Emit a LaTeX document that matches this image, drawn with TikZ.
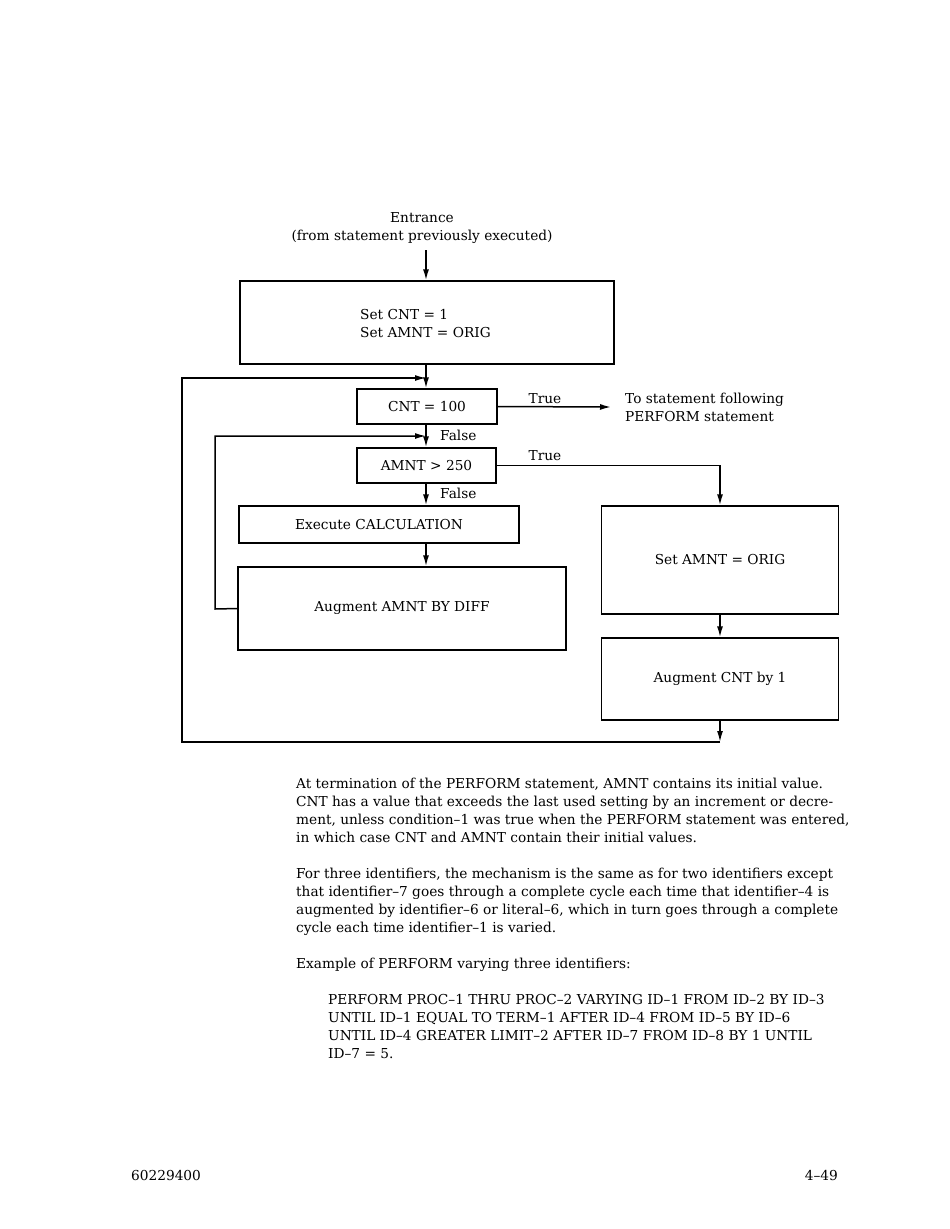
\documentclass[tikz,border=0pt]{standalone}
\usepackage{fontspec}
\setmainfont{DejaVu Serif}
\usetikzlibrary{arrows.meta}
\begin{document}
\begin{tikzpicture}[x=1pt,y=-1pt,
  every node/.style={font=\fontsize{13.7}{18}\selectfont},
  box/.style={draw,line width=1.4pt,inner sep=0pt,align=center},
  line/.style={line width=1.5pt},
  arr/.style={line width=1.5pt,-{Latex[length=11pt,width=6pt]}},
  lbl/.style={inner sep=0pt},
  para/.style={inner sep=0pt,align=left,anchor=north west}]
\useasboundingbox (0,0) rectangle (950,1229);
% titles
\node[lbl,align=center] (ent) at (422,228) {Entrance\\(from statement previously executed)};
\coordinate (entarr) at (426,250);
% boxes
\node[box,minimum width=374pt,minimum height=83pt] (b1) at (427,322.5) {};
\node[lbl,align=left,anchor=west] (b1t) at (360,324) {Set CNT = 1\\Set AMNT = ORIG};
\node[box,minimum width=140pt,minimum height=35pt] (cnt) at (427,406.5) {CNT = 100};
\node[box,minimum width=139pt,minimum height=35pt] (amnt) at (426.5,465.5) {AMNT > 250};
\node[box,minimum width=280pt,minimum height=37pt] (exec) at (379,524.5) {Execute CALCULATION};
\node[box,minimum width=328pt,minimum height=83pt] (augam) at (402,608.5) {Augment AMNT BY DIFF};
\node[box,minimum width=237pt,minimum height=108pt] (setam) at (720,560) {Set AMNT = ORIG};
\node[box,minimum width=237pt,minimum height=82pt] (augcnt) at (720,679) {Augment CNT by 1};
\node[lbl,align=left,anchor=west] (tostmt) at (625,407) {To statement following\\PERFORM statement};
% labels
\node[lbl] (t1) at (545,399) {True};
\node[lbl] (t2) at (545,456) {True};
\node[lbl,anchor=west] (f1) at (440,435) {False};
\node[lbl,anchor=west] (f2) at (440,493) {False};
% junctions
\coordinate (j1) at (426,378);
\coordinate (j2) at (426,436);
\coordinate (bot) at (720,742);
\coordinate (lc) at (182,742);
\coordinate (ic) at (215,609);
% connectors
\draw[arr] (entarr) -- (b1.north -| entarr);
\draw[line] (b1.south -| j1) -- (j1);
\draw[arr] (j1) -- (cnt.north -| j1);
\draw[arr] (cnt.east) -- ([xshift=-14pt]tostmt.west);
\draw[line] (cnt.south -| j2) -- (j2);
\draw[arr] (j2) -- (amnt.north -| j2);
\draw[arr] (amnt.east) -| (setam.north);
\draw[arr] (amnt.south -| j2) -- (exec.north -| j2);
\draw[arr] (exec.south -| j2) -- (augam.north -| j2);
\draw[arr] (augam.west) -- (ic) |- (j2);
\draw[arr] (setam.south) -- (augcnt.north);
\draw[arr] (augcnt.south) -- (bot);
\draw[arr] (bot) -- (lc) |- (j1);
% text
\node[para] (p1) at (296,778) {At termination of the PERFORM statement, AMNT contains its initial value.\\
CNT has a value that exceeds the last used setting by an increment or decre-\\
ment, unless condition–1 was true when the PERFORM statement was entered,\\
in which case CNT and AMNT contain their initial values.};
\node[para] (p2) at (296,868) {For three identifiers, the mechanism is the same as for two identifiers except\\
that identifier–7 goes through a complete cycle each time that identifier–4 is\\
augmented by identifier–6 or literal–6, which in turn goes through a complete\\
cycle each time identifier–1 is varied.};
\node[para] (p3) at (296,958) {Example of PERFORM varying three identifiers:};
\node[para] (p4) at (328,994) {PERFORM PROC–1 THRU PROC–2 VARYING ID–1 FROM ID–2 BY ID–3\\
UNTIL ID–1 EQUAL TO TERM–1 AFTER ID–4 FROM ID–5 BY ID–6\\
UNTIL ID–4 GREATER LIMIT–2 AFTER ID–7 FROM ID–8 BY 1 UNTIL\\
ID–7 = 5.};
\node[lbl,anchor=west] (foot1) at (131,1175) {60229400};
\node[lbl,anchor=east] (foot2) at (838,1175) {4–49};
\end{tikzpicture}
\end{document}
